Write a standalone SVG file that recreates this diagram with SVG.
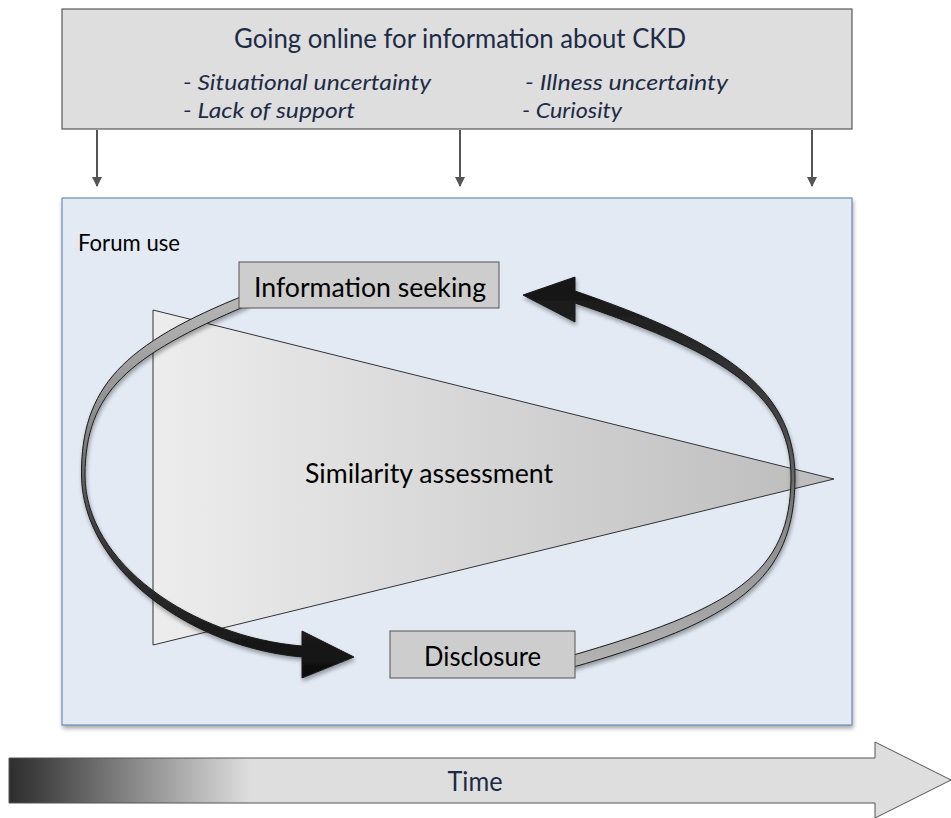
<svg xmlns="http://www.w3.org/2000/svg" width="951" height="818" viewBox="0 0 951 818">
  <defs>
    <style>
      .txt { font-family: Lato, "Open Sans", "DejaVu Sans", sans-serif; fill: #000; }
      .navy { fill: #1d2b46; }
      .it { font-style: italic; }
      .box { fill: #cdcdcd; stroke: #555; stroke-width: 1; }
      .band { stroke: #1a1a1a; stroke-width: 1; stroke-linejoin: round; }
      .link { stroke: #555; stroke-width: 2; fill: none; }
    </style>
    <linearGradient id="coneFill" x1="153" y1="0" x2="834" y2="0" gradientUnits="userSpaceOnUse">
      <stop offset="0" stop-color="#ededed"/>
      <stop offset="1" stop-color="#bcbcbc"/>
    </linearGradient>
    <linearGradient id="leftBand" x1="0" y1="295" x2="0" y2="665" gradientUnits="userSpaceOnUse">
      <stop offset="0" stop-color="#b8b8b8"/>
      <stop offset="0.35" stop-color="#8a8a8a"/>
      <stop offset="0.65" stop-color="#3c3c3c"/>
      <stop offset="1" stop-color="#111111"/>
    </linearGradient>
    <linearGradient id="rightBand" x1="0" y1="668" x2="0" y2="290" gradientUnits="userSpaceOnUse">
      <stop offset="0" stop-color="#b4b4b4"/>
      <stop offset="0.35" stop-color="#8e8e8e"/>
      <stop offset="0.65" stop-color="#444444"/>
      <stop offset="1" stop-color="#161616"/>
    </linearGradient>
    <linearGradient id="timeFill" x1="9" y1="0" x2="250" y2="0" gradientUnits="userSpaceOnUse">
      <stop offset="0" stop-color="#2e2e2e"/>
      <stop offset="0.08" stop-color="#3a3a3a"/>
      <stop offset="1" stop-color="#dedede"/>
    </linearGradient>
    <filter id="shadow" x="-5%" y="-5%" width="112%" height="115%">
      <feGaussianBlur in="SourceAlpha" stdDeviation="2"/>
      <feOffset dx="1" dy="3" result="off"/>
      <feComponentTransfer><feFuncA type="linear" slope="0.35"/></feComponentTransfer>
      <feMerge><feMergeNode/><feMergeNode in="SourceGraphic"/></feMerge>
    </filter>
    <marker id="tip" viewBox="0 0 10 10" refX="9" refY="5" markerWidth="5" markerHeight="5" orient="auto" markerUnits="strokeWidth">
      <path d="M0,0 L10,5 L0,10 z" fill="#555"/>
    </marker>
  </defs>

  <!-- motivations box -->
  <g id="motivations">
    <rect x="62" y="9" width="790" height="120" fill="#dedede" stroke="#3a3a3a" stroke-width="1"/>
    <text class="txt navy" x="460" y="48" font-size="26" text-anchor="middle" textLength="452" lengthAdjust="spacingAndGlyphs">Going online for information about CKD</text>
    <text class="txt navy it" x="183" y="90" font-size="22" textLength="248" lengthAdjust="spacingAndGlyphs">- Situational uncertainty</text>
    <text class="txt navy it" x="525" y="90" font-size="22" textLength="203" lengthAdjust="spacingAndGlyphs">- Illness uncertainty</text>
    <text class="txt navy it" x="183" y="118" font-size="22" textLength="172" lengthAdjust="spacingAndGlyphs">- Lack of support</text>
    <text class="txt navy it" x="522" y="118" font-size="22" textLength="100" lengthAdjust="spacingAndGlyphs">- Curiosity</text>
  </g>

  <!-- arrows into the forum area -->
  <g id="connectors">
    <line class="link" x1="97" y1="130" x2="97" y2="186" marker-end="url(#tip)"/>
    <line class="link" x1="460" y1="130" x2="460" y2="186" marker-end="url(#tip)"/>
    <line class="link" x1="812" y1="130" x2="812" y2="186" marker-end="url(#tip)"/>
  </g>

  <!-- forum use panel -->
  <g id="forum">
    <rect x="62" y="198" width="790" height="527" fill="#e3eaf4" stroke="#4f7bab" stroke-width="1" filter="url(#shadow)"/>
    <text class="txt" x="78" y="251" font-size="24" textLength="102" lengthAdjust="spacingAndGlyphs">Forum use</text>
  </g>

  <!-- similarity assessment wedge -->
  <g id="similarity">
    <polygon points="153,310 834,479 153,645" fill="url(#coneFill)" stroke="#333" stroke-width="1"/>
    <text class="txt" x="429" y="483" font-size="26" text-anchor="middle" textLength="248" lengthAdjust="spacingAndGlyphs">Similarity assessment</text>
  </g>

  <!-- cycle ribbons -->
  <g id="cycle" filter="url(#shadow)">
    <path class="band" fill="url(#leftBand)" d="M 248 294 C 122 344, 81 388, 81.5 475 C 82 567, 188 647, 302 657 L 302 678 L 354 657 L 302 631 L 302 646 C 192 637, 85 563, 85 475 C 85.5 392, 128 356, 248 305 Z"/>
    <path class="band" fill="url(#rightBand)" d="M 570 668 C 737 621, 795 580, 795 477 C 795 385, 717 340, 575 291 L 575 277 L 523 295 L 575 322 L 575 303 C 713 350, 791 389, 791 477 C 791 574, 733 609, 570 656 Z"/>
  </g>

  <!-- stage boxes -->
  <g id="info-seeking">
    <rect class="box" x="239" y="262" width="260" height="46"/>
    <text class="txt" x="370" y="297" font-size="26" text-anchor="middle" textLength="232" lengthAdjust="spacingAndGlyphs">Information seeking</text>
  </g>
  <g id="disclosure">
    <rect class="box" x="390" y="631" width="185" height="47"/>
    <text class="txt" x="482.5" y="666" font-size="26" text-anchor="middle" textLength="117" lengthAdjust="spacingAndGlyphs">Disclosure</text>
  </g>

  <!-- time axis -->
  <g id="time">
    <polygon points="9,758 875,758 875,742 951,780 875,818 875,803 9,803" fill="url(#timeFill)" stroke="#555" stroke-width="1"/>
    <text class="txt navy" x="475" y="791" font-size="26" text-anchor="middle" textLength="55" lengthAdjust="spacingAndGlyphs">Time</text>
  </g>
</svg>
